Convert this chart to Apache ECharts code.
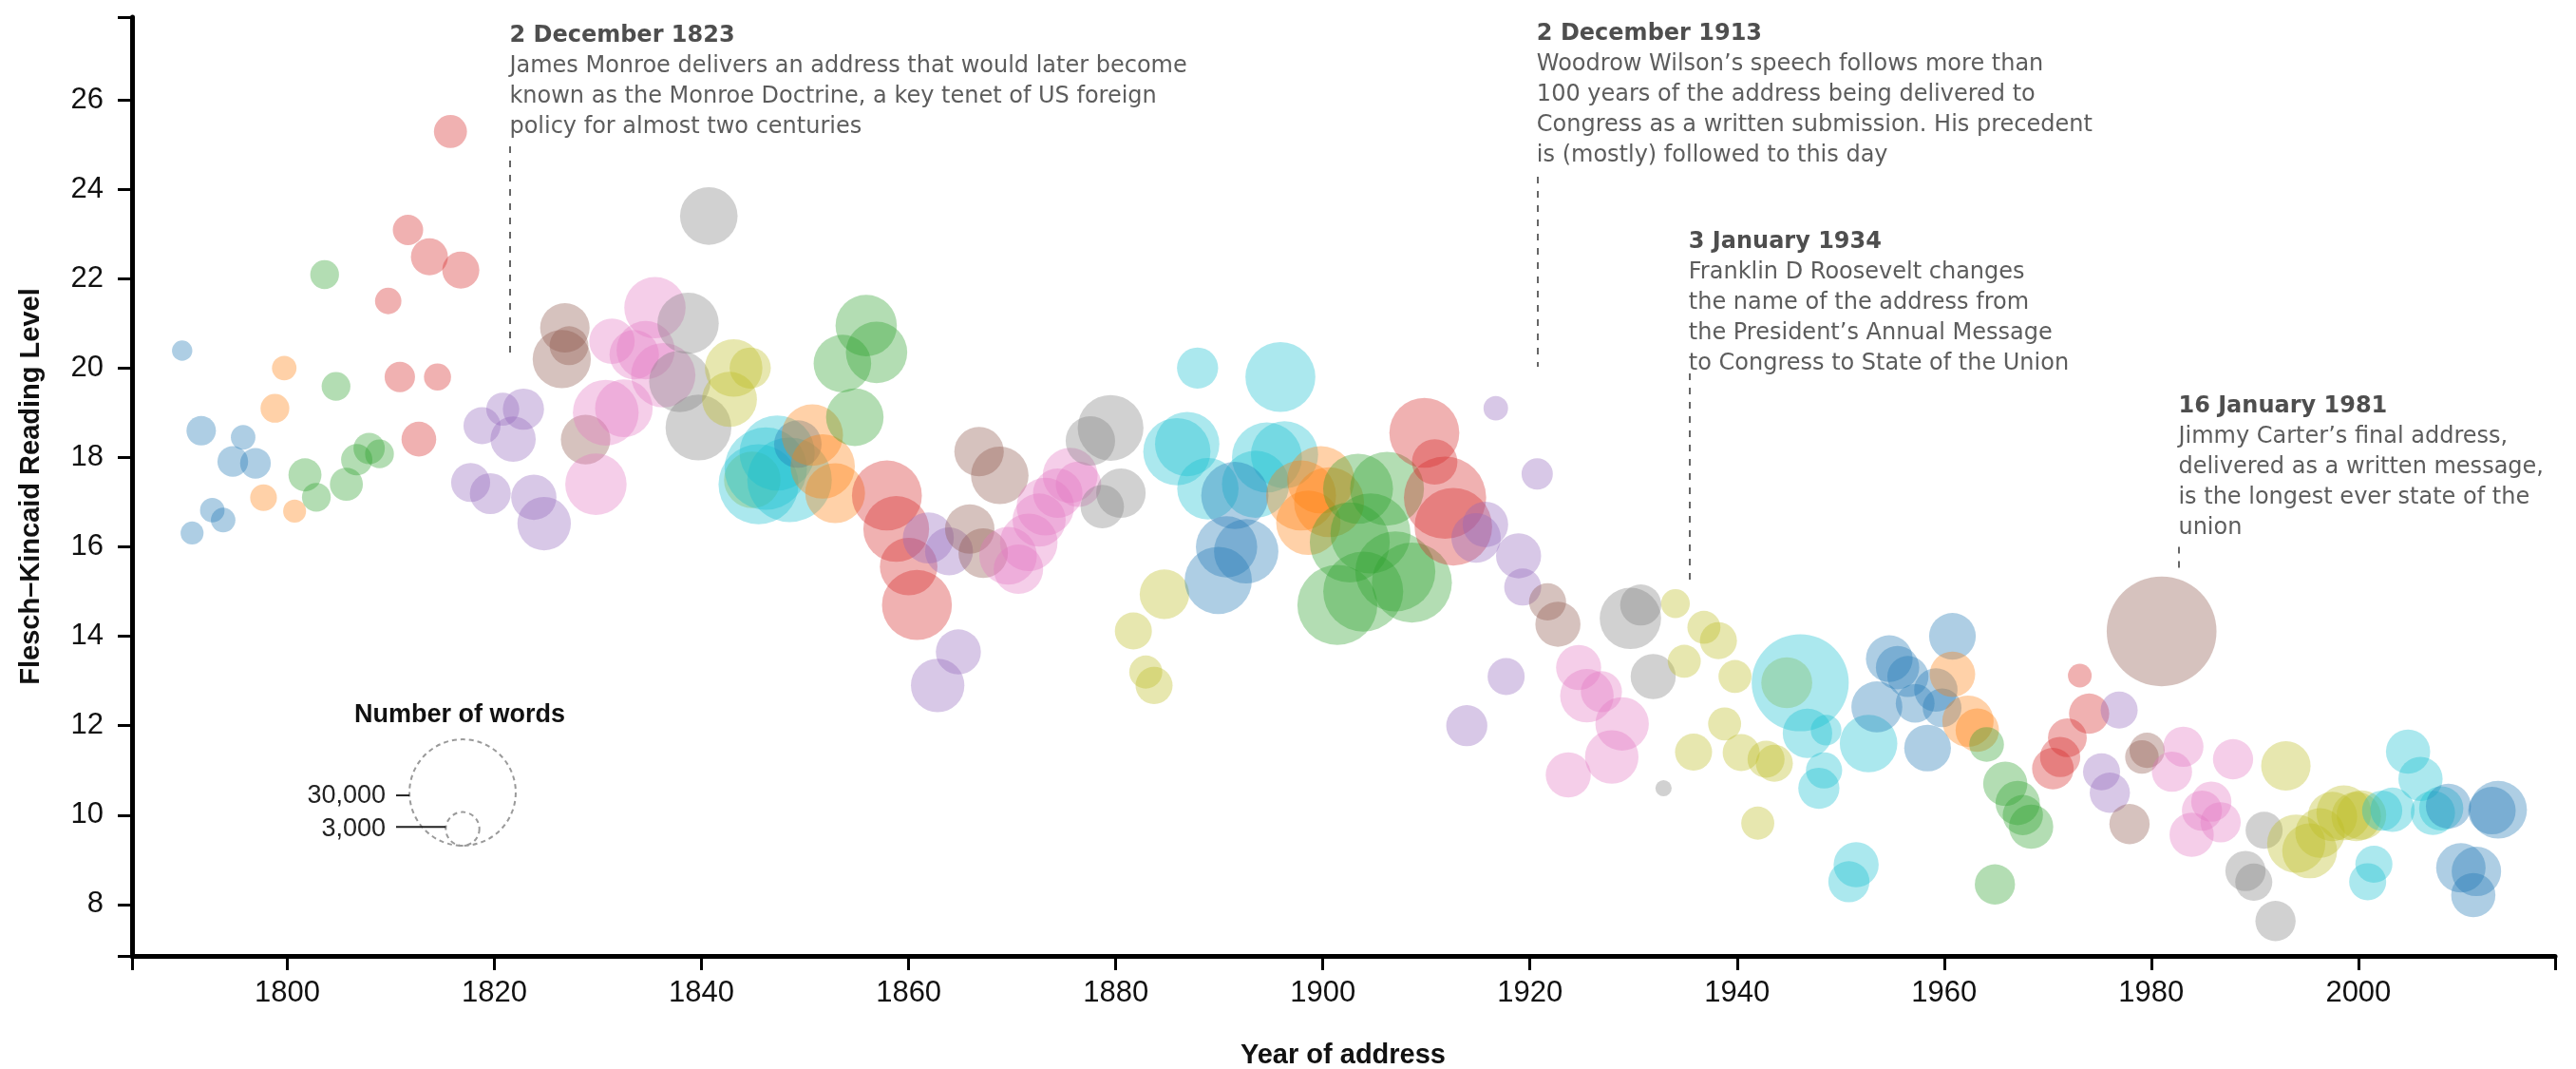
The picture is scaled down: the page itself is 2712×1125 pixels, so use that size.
<!DOCTYPE html>
<html><head><meta charset="utf-8">
<script src="https://cdn.jsdelivr.net/npm/echarts@6/dist/echarts.min.js"></script>
<style>html,body{margin:0;padding:0;background:#fff}#c{width:2712px;height:1125px}</style>
</head><body><div id="c"></div>
<script>
// ---------- DATA ----------
const presidentNames = ['George Washington','John Adams','Thomas Jefferson','James Madison','James Monroe','John Quincy Adams','Andrew Jackson','Martin Van Buren','John Tyler','James K Polk','Zachary Taylor','Millard Fillmore','Franklin Pierce','James Buchanan','Abraham Lincoln','Andrew Johnson','Ulysses S Grant','Rutherford B Hayes','Chester A Arthur','Grover Cleveland','Benjamin Harrison','William McKinley','Theodore Roosevelt','William H Taft','Woodrow Wilson','Warren G Harding','Calvin Coolidge','Herbert Hoover','Franklin D Roosevelt','Harry S Truman','Dwight D Eisenhower','John F Kennedy','Lyndon B Johnson','Richard Nixon','Gerald R Ford','Jimmy Carter','Ronald Reagan','George H W Bush','Bill Clinton','George W Bush','Barack Obama'];
const addressCounts = [8,4,8,8,8,4,8,4,4,4,1,3,4,4,4,4,8,4,4,8,4,4,8,4,8,2,6,4,12,8,9,3,6,5,3,4,7,4,8,8,6];

const addressYear = [
  1789.84,1790.8,1791.68,1792.75,1793.8,1794.73,1795.73,1796.92,      // Washington
  1797.7,1798.8,1799.7,1800.7,                                        // J Adams
  1801.7,1802.8,1803.6,1804.7,1805.7,1806.7,1807.9,1808.9,            // Jefferson
  1809.74,1810.86,1811.65,1812.7,1813.72,1814.5,1815.75,1816.75,      // Madison
  1817.7,1818.8,1819.6,1820.8,1821.8,1822.8,1823.8,1824.8,            // Monroe
  1826.5,1826.8,1827.2,1828.8,                                        // JQ Adams
  1829.8,1830.75,1831.35,1832.5,1833.5,1834.6,1835.5,1836.3,          // Jackson
  1837.9,1838.7,1839.7,1840.7,                                        // Van Buren
  1842.7,1843.1,1844.7,1844.9,                                        // Tyler
  1845.5,1846.2,1847.3,1848.5,                                        // Polk
  1849.3,                                                             // Taylor
  1850.7,1851.7,1852.9,                                               // Fillmore
  1853.6,1854.8,1855.9,1856.9,                                        // Pierce
  1857.9,1858.8,1860.0,1860.8,                                        // Buchanan
  1861.9,1862.8,1863.9,1864.8,                                        // Lincoln
  1865.9,1866.8,1867.2,1868.8,                                        // A Johnson
  1869.6,1870.6,1871.6,1872.6,1873.2,1874.4,1875.6,1876.4,            // Grant
  1877.55,1878.7,1879.5,1880.5,                                       // Hayes
  1881.7,1882.9,1883.7,1884.7,                                        // Arthur
  1885.9,1886.9,1887.9,1888.9,1893.5,1894.6,1895.9,1896.3,            // Cleveland
  1889.9,1890.7,1891.5,1892.6,                                        // B Harrison
  1897.9,1898.6,1899.8,1900.6,                                        // McKinley
  1901.4,1902.6,1903.4,1903.9,1904.6,1906.2,1907.0,1908.6,            // T Roosevelt
  1909.8,1910.8,1911.8,1912.6,                                        // Taft
  1913.9,1914.8,1915.7,1916.7,1917.7,1918.9,1919.3,1920.7,            // Wilson
  1921.7,1922.7,                                                      // Harding
  1923.7,1924.7,1925.5,1926.9,1927.9,1928.9,                          // Coolidge
  1929.7,1930.7,1931.9,1932.9,                                        // Hoover
  1934.05,1934.9,1935.8,1936.8,1938.2,1938.8,1939.8,1940.4,1942.0,1942.8,1943.6,1944.8, // FDR
  1946.1,1946.8,1947.9,1948.4,1948.6,1950.8,1951.5,1952.7,            // Truman
  1953.5,1954.7,1955.5,1956.5,1957.2,1958.4,1959.2,1959.8,1960.8,     // Eisenhower
  1960.8,1962.3,1963.2,                                               // Kennedy
  1964.1,1964.9,1965.9,1967.1,1967.6,1968.4,                          // LB Johnson
  1970.5,1971.2,1971.9,1973.1,1974.0,                                 // Nixon
  1975.2,1976.0,1976.9,                                               // Ford
  1977.9,1979.1,1979.6,1981.0,                                        // Carter
  1982.0,1983.1,1983.9,1984.9,1985.8,1986.7,1987.9,                   // Reagan
  1989.1,1989.9,1990.9,1992.0,                                        // GHW Bush
  1993.0,1994.0,1995.3,1996.3,1997.5,1998.6,1999.8,2000.3,            // Clinton
  2000.9,2001.5,2002.3,2003.3,2004.8,2006.0,2007.2,2008.0,            // GW Bush
  2008.7,2009.9,2011.1,2011.4,2012.9,2013.5                           // Obama
];
const readingLevel = [
  20.39,16.31,18.6,16.82,16.6,17.91,18.45,17.87,
  17.1,19.1,20.0,16.8,
  17.61,17.11,22.09,19.59,17.4,17.95,18.2,18.08,
  21.5,19.8,23.09,18.41,22.49,19.8,25.29,22.19,
  17.44,18.71,17.19,19.08,18.41,19.08,17.11,16.52,
  20.2,20.9,20.5,18.4,
  17.4,19.0,20.6,19.1,20.3,20.4,21.35,19.84,
  19.7,21.0,18.67,23.4,
  19.3,20.0,20.0,17.5,
  17.4,17.75,18.1,17.5,
  18.3,
  18.5,17.8,17.2,
  20.1,18.9,20.95,20.35,
  17.15,16.4,15.56,14.7,
  16.2,12.9,15.9,13.65,
  16.4,18.13,15.86,17.6,
  15.8,15.5,16.1,16.6,16.9,17.2,17.6,17.4,
  18.37,16.9,18.66,17.2,
  14.12,13.2,12.9,14.94,
  18.13,18.3,20.0,17.3,17.4,18.0,19.8,18.06,
  15.25,16.0,17.15,15.9,
  17.15,16.54,17.5,17.0,
  14.7,16.1,17.3,15.0,16.3,17.3,15.45,15.2,
  18.55,17.9,17.1,16.45,
  12.0,16.2,16.5,19.1,13.1,15.8,15.1,17.63,
  14.77,14.27,
  10.9,13.3,12.67,12.76,11.3,12.04,
  14.4,14.7,13.1,10.6,
  14.73,13.44,11.41,14.2,13.9,12.04,13.1,11.4,9.82,11.25,11.16,12.96,
  12.96,11.83,10.6,11.0,11.9,8.51,8.89,11.6,
  12.42,13.5,13.3,13.1,12.5,11.5,12.8,12.4,14.0,
  13.15,12.1,11.9,
  11.58,8.45,10.7,10.27,10.0,9.74,
  11.04,11.3,11.73,13.12,12.27,
  10.97,10.5,12.35,
  9.8,11.3,11.45,14.11,
  10.97,11.53,9.56,10.1,10.3,9.84,11.25,
  8.75,8.5,9.66,7.63,
  11.1,9.36,9.2,9.6,9.97,10.05,9.97,10.0,
  8.51,8.9,10.1,10.12,11.42,10.81,10.05,10.15,
  10.2,8.82,8.21,8.74,10.1,10.12
];
const wordCount = [
  1100,1400,2300,1600,1600,2500,1600,2500,
  1900,2200,1600,1400,
  2900,2200,2200,2200,2900,2600,2600,2200,
  1850,2450,2450,3200,3650,1950,2900,3650,
  4050,3650,4450,2900,5450,4500,5450,7600,
  9000,6500,4000,6500,
  10000,11500,5500,8800,6500,9000,10000,11000,
  10000,10000,11500,8800,
  8000,8800,4500,8500,
  17000,18000,15000,19000,
  6000,
  10000,11000,9500,
  8800,8800,10000,10000,
  13000,11500,8800,13000,
  6900,7600,6100,5400,
  6500,6500,6500,8800,
  8800,6500,8800,7500,8800,6500,8000,5500,
  6500,5000,11500,6500,
  3650,2900,3650,6500,
  12000,11000,4500,10000,12000,13000,13000,12000,
  12000,10000,12000,11000,
  13000,11000,12000,13000,
  17000,17000,13000,17000,17000,14500,17000,17000,
  13000,5500,18000,16000,
  4500,6500,5500,1600,3650,5400,3650,2600,
  3650,5400,
  5400,5400,7600,4500,7600,7600,
  10000,4500,5400,700,
  2200,2900,3650,2900,3650,2900,2900,3650,2900,3650,3650,6900,
  25000,6500,4500,3500,2500,4500,5400,8800,
  6900,5800,5000,4500,4000,5800,5000,4000,5800,
  5500,7000,5000,
  3200,4300,5200,5200,4300,5200,
  4600,4300,4000,1500,4300,
  3650,4300,3650,
  4300,3000,3300,32000,
  4300,4300,5200,4300,4300,4300,4300,
  4300,3650,3650,4300,
  6500,9000,8000,6500,6500,8000,6500,6500,
  3650,3650,4300,5200,5200,5200,5200,5200,
  5400,6500,5200,6500,6000,8800
];

const xTickLabels = [1800,1820,1840,1860,1880,1900,1920,1940,1960,1980,2000];
const yTickLabels = [8,10,12,14,16,18,20,22,24,26];
const legendWords = [30000, 3000];
const legendLabels = ['30,000', '3,000'];

const annotationTitles = ['2 December 1823','2 December 1913','3 January 1934','16 January 1981'];
const annotationBodies = [
  ['James Monroe delivers an address that would later become','known as the Monroe Doctrine, a key tenet of US foreign','policy for almost two centuries'],
  ['Woodrow Wilson\u2019s speech follows more than','100 years of the address being delivered to','Congress as a written submission. His precedent','is (mostly) followed to this day'],
  ['Franklin D Roosevelt changes','the name of the address from','the President\u2019s Annual Message','to Congress to State of the Union'],
  ['Jimmy Carter\u2019s final address,','delivered as a written message,','is the longest ever state of the','union']
];
const annotationYear = [1821.5, 1920.7, 1935.37, 1982.67];
const annotationTextTop = [27.76, 27.81, 23.15, 19.46];
const annotationLineTop = [24.96, 24.28, 19.88, 16.0];
const annotationLineBottom = [20.34, 20.03, 15.1, 15.37];

// ---------- CHART ----------
const palette = ['#1f77b4','#ff7f0e','#2ca02c','#d62728','#9467bd','#8c564b','#e377c2','#7f7f7f','#bcbd22','#17becf'];
const sizeOf = w => 0.646 * Math.sqrt(w);
const axisFont = 'Liberation Sans, Arial, sans-serif';
const noteFont = 'DejaVu Sans, Verdana, sans-serif';

const series = [];
let idx = 0;
presidentNames.forEach((name, p) => {
  const data = [];
  for (let k = 0; k < addressCounts[p]; k++, idx++) {
    data.push([addressYear[idx], readingLevel[idx], wordCount[idx]]);
  }
  series.push({
    type: 'scatter', name, data, z: 2,
    symbolSize: v => sizeOf(v[2]),
    itemStyle: { color: palette[p % 10], opacity: 0.36 },
    silent: true
  });
});

series.push({
  type: 'lines', coordinateSystem: 'cartesian2d', z: 3, silent: true,
  data: annotationYear.map((x, i) => ({ coords: [[x, annotationLineTop[i]], [x, annotationLineBottom[i]]] })),
  lineStyle: { color: '#666', width: 2, type: [7, 8], opacity: 1 }
});

series.push({
  type: 'scatter', z: 4, silent: true, symbolSize: 1,
  itemStyle: { color: 'transparent' },
  data: annotationYear.map((x, i) => ({
    value: [x, annotationTextTop[i]],
    label: {
      show: true, position: [0, 0], align: 'left', verticalAlign: 'top',
      formatter: '{t|' + annotationTitles[i] + '}\n' + annotationBodies[i].map(s => '{b|' + s + '}').join('\n'),
      rich: {
        t: { fontFamily: noteFont, fontSize: 24, fontWeight: 'bold', color: '#222', lineHeight: 32 },
        b: { fontFamily: noteFont, fontSize: 24, color: '#333', lineHeight: 32 }
      }
    }
  }))
});

const chart = echarts.init(document.getElementById('c'), null, { renderer: 'canvas' });

const legendCx = 487, legendBottom = 890;
const rBig = sizeOf(legendWords[0]) / 2, rSmall = sizeOf(legendWords[1]) / 2;
const cyBig = legendBottom - rBig, cySmall = legendBottom - rSmall;

chart.setOption({
  animation: false,
  backgroundColor: '#fff',
  grid: { left: 139, right: 22, top: 18, bottom: 119, containLabel: false },
  xAxis: {
    type: 'value', min: 1785, max: 2019,
    axisLine: { show: true, onZero: false, lineStyle: { color: '#000', width: 5 } },
    axisTick: { show: true, length: 15, lineStyle: { color: '#000', width: 3 }, customValues: [1785].concat(xTickLabels, [2019]) },
    axisLabel: { customValues: xTickLabels, formatter: v => String(v), fontSize: 31, fontFamily: axisFont, color: '#111', margin: 24 },
    splitLine: { show: false }
  },
  yAxis: {
    type: 'value', min: 6.85, max: 27.85,
    axisLine: { show: true, onZero: false, lineStyle: { color: '#000', width: 5 } },
    axisTick: { show: true, length: 15, lineStyle: { color: '#000', width: 3 }, customValues: [6.85].concat(yTickLabels, [27.85]) },
    axisLabel: { customValues: yTickLabels, formatter: v => String(v), fontSize: 31, fontFamily: axisFont, color: '#111', margin: 30 },
    splitLine: { show: false }
  },
  series,
  graphic: [
    { type: 'text', x: 33, y: 512, rotation: Math.PI / 2,
      style: { text: 'Flesch\u2013Kincaid Reading Level', font: 'bold 29px ' + axisFont, fill: '#111', align: 'center', verticalAlign: 'middle' } },
    { type: 'text', x: 1414, y: 1111,
      style: { text: 'Year of address', font: 'bold 29px ' + axisFont, fill: '#111', align: 'center', verticalAlign: 'middle' } },
    { type: 'text', x: 484, y: 753,
      style: { text: 'Number of words', font: 'bold 27px ' + axisFont, fill: '#111', align: 'center', verticalAlign: 'middle' } },
    { type: 'circle', shape: { cx: legendCx, cy: cyBig, r: rBig }, style: { fill: 'none', stroke: '#9a9a9a', lineWidth: 2, lineDash: [5, 4] } },
    { type: 'circle', shape: { cx: legendCx, cy: cySmall, r: rSmall }, style: { fill: 'none', stroke: '#9a9a9a', lineWidth: 2, lineDash: [5, 4] } },
    { type: 'line', shape: { x1: 417, y1: cyBig + 3, x2: legendCx - rBig, y2: cyBig + 3 }, style: { stroke: '#222', lineWidth: 2 } },
    { type: 'line', shape: { x1: 417, y1: cySmall - 2, x2: legendCx - rSmall, y2: cySmall - 2 }, style: { stroke: '#222', lineWidth: 2 } },
    { type: 'text', x: 406, y: cyBig + 3,
      style: { text: legendLabels[0], font: '27px ' + axisFont, fill: '#222', align: 'right', verticalAlign: 'middle' } },
    { type: 'text', x: 406, y: cySmall,
      style: { text: legendLabels[1], font: '27px ' + axisFont, fill: '#222', align: 'right', verticalAlign: 'middle' } }
  ]
});
</script>
</body></html>
